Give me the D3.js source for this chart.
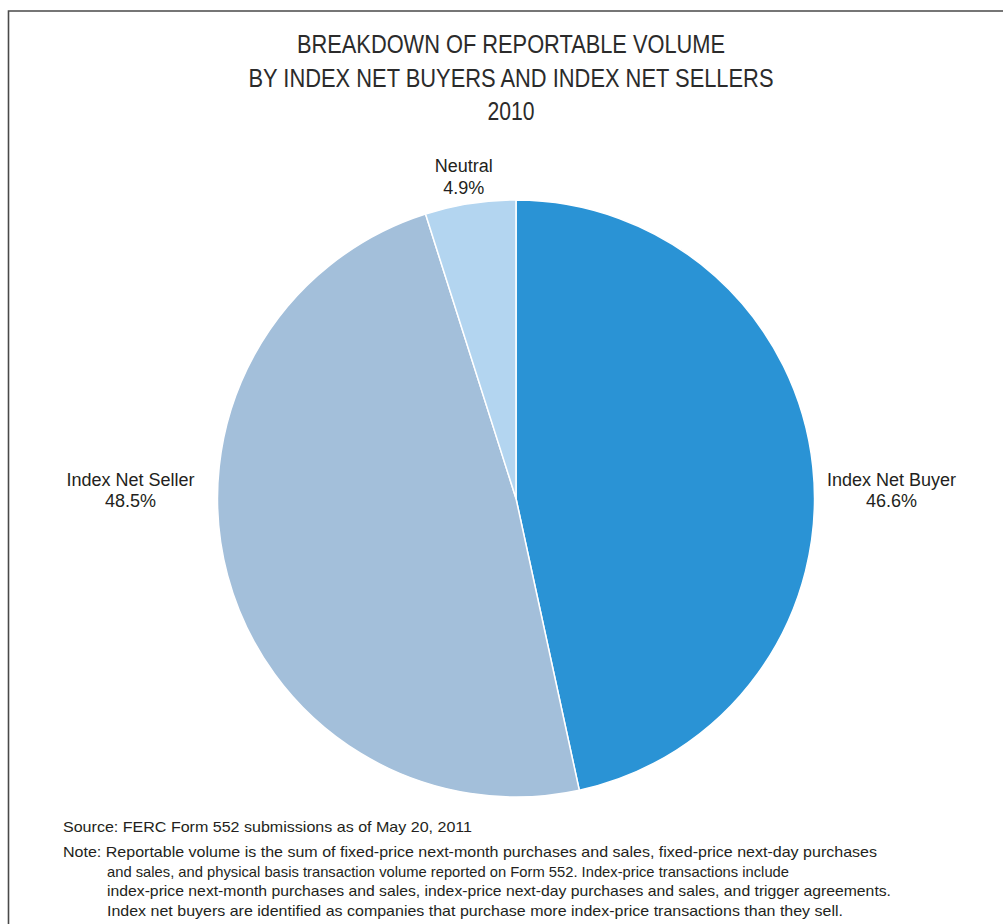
<!DOCTYPE html>
<html>
<head>
<meta charset="utf-8">
<script src="https://cdn.jsdelivr.net/npm/d3@7"></script>
<style>
  html, body { margin: 0; padding: 0; background: #fff; }
  svg { display: block; }
  .narrow { font-family: "Liberation Sans Narrow", "Arial Narrow", "Liberation Sans", Arial, sans-serif; fill: #231f20; }
  .title { fill: #2b2b2b; }
  .lbl { font-family: "Liberation Sans", Arial, Helvetica, sans-serif; fill: #231f20; font-size: 18px; }
</style>
</head>
<body>
<script>
// Share of 2010 reportable volume by index trading position
const categories = ["Index Net Buyer", "Index Net Seller", "Neutral"];
const shares = [46.6, 48.5, 4.9];
const sliceColors = ["#2a93d5", "#a3bfda", "#b3d5f0"];

const titleLines = [
  "BREAKDOWN OF REPORTABLE VOLUME",
  "BY INDEX NET BUYERS AND INDEX NET SELLERS",
  "2010"
];
const sourceLine = "Source: FERC Form 552 submissions as of May 20, 2011";
const noteLines = [
  "Note: Reportable volume is the sum of fixed-price next-month purchases and sales, fixed-price next-day purchases",
  "and sales, and physical basis transaction volume reported on Form 552. Index-price transactions include",
  "index-price next-month purchases and sales, index-price next-day purchases and sales, and trigger agreements.",
  "Index net buyers are identified as companies that purchase more index-price transactions than they sell."
];

const W = 1003, H = 924;
const cx = 516, cy = 498.5, radius = 298.5;

const svg = d3.select("body").append("svg")
  .attr("width", W).attr("height", H);

// frame: top rule and left rule
svg.append("path")
  .attr("d", `M8.5,${H} L8.5,11 L${W},11`)
  .attr("fill", "none").attr("stroke", "#4a4a4a").attr("stroke-width", 1.6);

// title
const titleSpec = [
  { y: 53, size: 26, width: 428 },
  { y: 86.5, size: 26, width: 525 },
  { y: 120, size: 26, width: 47 }
];
titleLines.forEach((t, i) => {
  svg.append("text").attr("class", "narrow title")
    .attr("x", 511).attr("y", titleSpec[i].y)
    .attr("text-anchor", "middle")
    .attr("font-size", titleSpec[i].size)
    .attr("textLength", titleSpec[i].width)
    .attr("lengthAdjust", "spacingAndGlyphs")
    .text(t);
});

// pie
const pie = d3.pie().sort(null).value(d => d)
  .startAngle(0).endAngle(2 * Math.PI);
const arcs = pie(shares);
const arc = d3.arc().innerRadius(0).outerRadius(radius);

const g = svg.append("g").attr("transform", `translate(${cx},${cy})`);
g.selectAll("path.slice")
  .data(arcs)
  .join("path")
  .attr("class", "slice")
  .attr("d", arc)
  .attr("fill", (d, i) => sliceColors[i])
  .attr("stroke", "#fff")
  .attr("stroke-width", 1.5)
  .attr("stroke-linejoin", "round");

// slice labels: side slices sit level with the centre, the small top slice sits above its arc
const fmt = d3.format(".1f");
arcs.forEach((d, i) => {
  const mid = (d.startAngle + d.endAngle) / 2;
  let x, y;
  if (i === 2) {
    x = Math.sin(mid) * (radius + 42);
    y = -radius - 28;
  } else {
    const side = Math.sin(mid) > 0 ? 1 : -1;
    x = side * (radius + (side > 0 ? 77 : 87));
    y = -13;
  }
  const t = g.append("text").attr("class", "lbl")
    .attr("text-anchor", "middle")
    .attr("transform", `translate(${x},${y})`);
  t.append("tspan").attr("x", 0).attr("y", 0).text(categories[i]);
  t.append("tspan").attr("x", 0).attr("y", 21.5).text(fmt(d.data) + "%");
});

// source and note
const footSize = 14.5;
svg.append("text").attr("class", "narrow")
  .attr("x", 63).attr("y", 831.5)
  .attr("font-size", footSize)
  .attr("textLength", 409).attr("lengthAdjust", "spacingAndGlyphs")
  .text(sourceLine);

const noteX = [63, 107, 107, 107];
const noteW = [814, 682, 784, 736];
noteLines.forEach((t, i) => {
  svg.append("text").attr("class", "narrow")
    .attr("x", noteX[i]).attr("y", 857 + 19.5 * i)
    .attr("font-size", footSize)
    .attr("textLength", noteW[i]).attr("lengthAdjust", "spacingAndGlyphs")
    .text(t);
});
</script>
</body>
</html>
